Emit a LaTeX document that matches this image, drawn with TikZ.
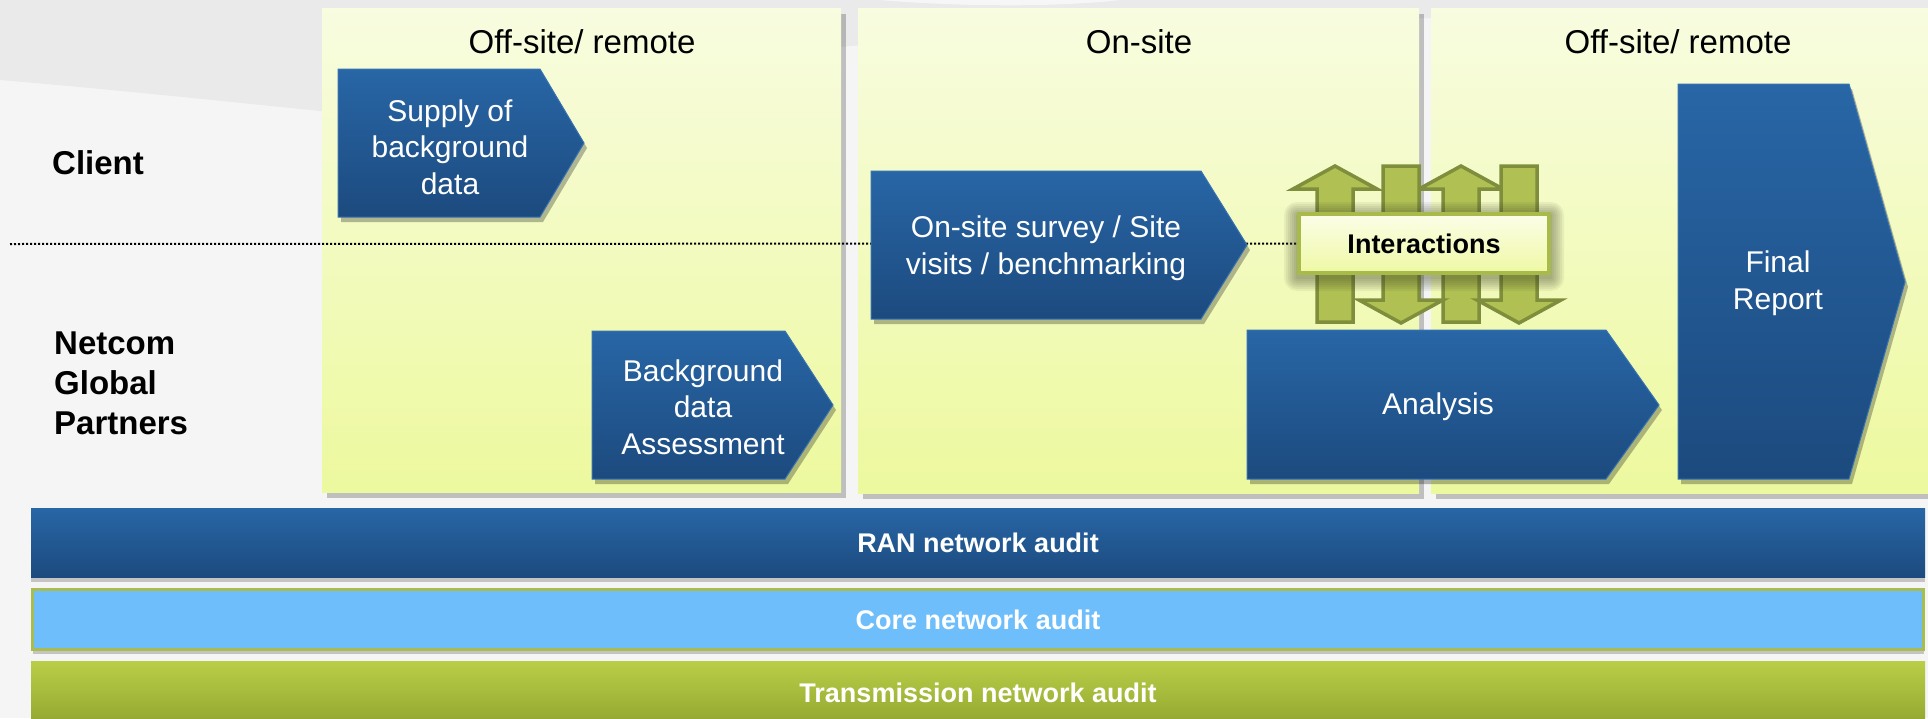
\documentclass[tikz,border=0pt]{standalone}
\usepackage{fontspec}
\setmainfont{Liberation Sans}
\usetikzlibrary{shadows}
\definecolor{bluetop}{RGB}{40,102,166}
\definecolor{bluebot}{RGB}{28,74,126}
\definecolor{blueline}{RGB}{56,114,178}
\definecolor{paneltop}{RGB}{248,252,224}
\definecolor{panelbot}{RGB}{237,249,158}
\definecolor{arrfill}{RGB}{176,192,82}
\definecolor{arrline}{RGB}{126,142,60}
\definecolor{intline}{RGB}{168,186,74}
\definecolor{inttop}{RGB}{252,254,232}
\definecolor{intbot}{RGB}{238,248,164}
\definecolor{glowc}{RGB}{60,66,40}
\definecolor{corefill}{RGB}{111,190,252}
\definecolor{coreline}{RGB}{168,188,80}
\definecolor{trtop}{RGB}{186,206,72}
\definecolor{trbot}{RGB}{146,166,48}
\definecolor{bggray}{RGB}{234,234,234}
\definecolor{bglight}{RGB}{245,245,245}
\pgfdeclarelayer{back}
\pgfdeclarelayer{mid}
\pgfsetlayers{back,mid,main}
\begin{document}
\begin{tikzpicture}[x=1pt,y=-1pt,
  panelbox/.style={top color=paneltop,bottom color=panelbot,draw=none,
    drop shadow={shadow xshift=5pt,shadow yshift=-6pt,opacity=.22,fill=black}},
  chevbox/.style={top color=bluetop,bottom color=bluebot,draw=blueline,line width=1pt,
    drop shadow={shadow xshift=3pt,shadow yshift=-5pt,opacity=.28,fill=black}},
  chevtext/.style={text=white,align=center,font=\fontsize{30}{36.5}\selectfont,inner sep=0pt},
  heading/.style={font=\fontsize{33}{40}\selectfont,inner sep=0pt},
  lanelabel/.style={font=\bfseries\fontsize{33}{40}\selectfont,align=left,anchor=west,inner sep=0pt},
  bartxt/.style={text=white,font=\bfseries\fontsize{27}{32}\selectfont,inner sep=0pt},
  ioarrow/.style={fill=arrfill,draw=arrline,line width=3.5pt,line join=miter},
]
\useasboundingbox (0,0) rectangle (1928,718);
\clip (0,0) rectangle (1928,718);

% background
\begin{pgfonlayer}{back}
\fill[bglight] (0,0) rectangle (1928,718);
\fill[bggray] (0,0) -- (1928,0) -- (1928,12) .. controls (1200,14) and (700,40) .. (340,113)
   .. controls (250,104) and (120,90) .. (0,80) -- cycle;
\fill[white,opacity=.6] (880,0) .. controls (950,6) and (1050,8) .. (1120,0) -- cycle;
\path[panelbox] (322,8) rectangle (841,492);
\path[panelbox] (858,8) rectangle (1419,493);
\path[panelbox] (1431,8) rectangle (1928,493);
\end{pgfonlayer}

% headings
\node[heading] (h1) at (582,42) {Off-site/ remote};
\node[heading] (h2) at (1139,42) {On-site};
\node[heading] (h3) at (1678,42) {Off-site/ remote};

% lane labels
\node[lanelabel] (client) at (52,163) {Client};
\node[lanelabel] (ngp) at (54,383) {Netcom\\Global\\Partners};

% chevrons
\path[chevbox] (338,69) -- (540,69) -- (584,143) -- (540,217) -- (338,217) -- cycle;
\node[chevtext] (supply) at (450,147) {Supply of\\background\\data};

\path[chevbox] (592,331) -- (785,331) -- (833,405) -- (785,479) -- (592,479) -- cycle;
\node[chevtext] (bgassess) at (703,407) {Background\\data\\Assessment};

\path[chevbox] (871,171) -- (1201,171) -- (1247,245) -- (1201,319) -- (871,319) -- cycle;
\node[chevtext] (onsite) at (1046,248) {On-site survey / Site\\visits / benchmarking};

\path[chevbox] (1247,330) -- (1606,330) -- (1659,405) -- (1606,479) -- (1247,479) -- cycle;
\node[chevtext] (analysis) at (1438,407) {Analysis};

\path[chevbox] (1678,84) -- (1849,84) -- (1905,282) -- (1849,479) -- (1678,479) -- cycle;
\node[chevtext] (final) at (1778,283) {Final\\Report};

% interaction arrows
\foreach \c in {1335,1461}{
  \path[ioarrow] (\c,166) -- ({\c+42},189) -- ({\c+18},189) -- ({\c+18},322)
     -- ({\c-18},322) -- ({\c-18},189) -- ({\c-42},189) -- cycle;
}
\foreach \c in {1401,1519}{
  \path[ioarrow] ({\c-18},166) -- ({\c+18},166) -- ({\c+18},300) -- ({\c+42},300)
     -- (\c,323) -- ({\c-42},300) -- ({\c-18},300) -- cycle;
}
% glow behind interactions box
\foreach \g in {13,11,...,1}{
  \fill[glowc,opacity=.07,rounded corners=\g pt] ({1297-\g},{212-\g+3}) rectangle ({1551+\g},{275+\g+3});
}
\node[draw=intline,line width=4pt,top color=inttop,bottom color=intbot,
      minimum width=250pt,minimum height=59pt,inner sep=0pt,
      font=\bfseries\fontsize{27}{32}\selectfont] (inter) at (1424,243.5) {Interactions};

% dotted separator
\coordinate (dstart) at (10,244);
\begin{pgfonlayer}{mid}
\draw[line width=2pt,dash pattern=on 2pt off 2pt] (dstart) -- (inter.west);
\end{pgfonlayer}

% bottom bars
\node[top color=bluetop,bottom color=bluebot,minimum width=1894pt,minimum height=69pt,
      drop shadow={shadow xshift=0pt,shadow yshift=-5pt,opacity=.2,fill=black},
      bartxt] (ran) at (978,542.5) {RAN network audit};
\node[fill=corefill,draw=coreline,line width=3pt,minimum width=1891pt,minimum height=60pt,
      drop shadow={shadow xshift=0pt,shadow yshift=-4pt,opacity=.2,fill=black},
      bartxt] (core) at (978,619.5) {Core network audit};
\node[top color=trtop,bottom color=trbot,minimum width=1894pt,minimum height=64pt,
      bartxt] (trans) at (978,693) {Transmission network audit};
\end{tikzpicture}
\end{document}
